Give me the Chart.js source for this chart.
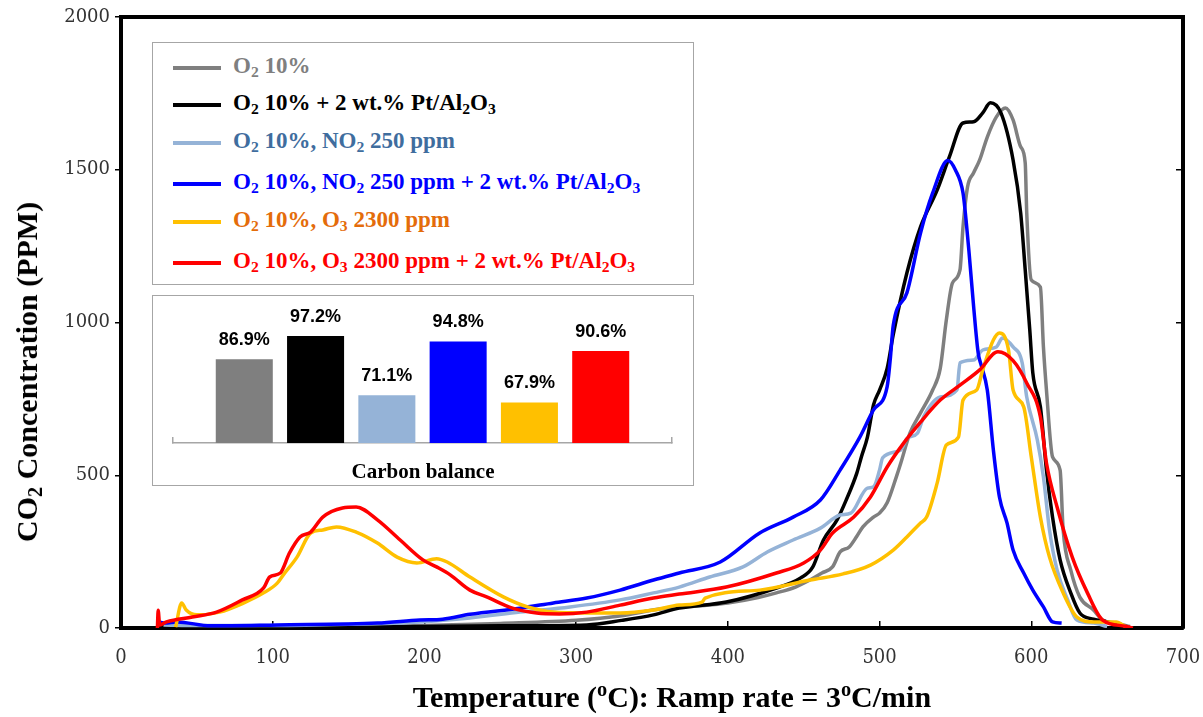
<!DOCTYPE html>
<html>
<head>
<meta charset="utf-8">
<script src="https://cdn.jsdelivr.net/npm/chart.js@4.4.0/dist/chart.umd.min.js"></script>
<style>
  body { margin: 0; background: #fff; }
  #wrap { position: relative; width: 1203px; height: 717px; overflow: hidden; background: #fff; }
  #main { position: absolute; left: 0; top: 0; }
  .box { position: absolute; background: #fff; border: 1.5px solid #a6a6a6; box-sizing: border-box; }
  #legend { left: 152px; top: 42px; width: 542px; height: 243px; }
  #insetBox { left: 152px; top: 295px; width: 542px; height: 191px; }
  #inset { position: absolute; left: 152px; top: 295px; }
  .row { position: absolute; left: 80px; height: 30px; line-height: 30px;
         font: bold 23px 'Liberation Serif', 'Times New Roman', serif; white-space: nowrap; }
  .swatch { position: absolute; left: 20px; width: 48px; height: 4px; }
  sub, sup { font-size: 68%; line-height: 0; }
  sub { vertical-align: -0.25em; }
  sup { vertical-align: 0.55em; }
  .title { position: absolute; font: bold 30px 'Liberation Serif', 'Times New Roman', serif; white-space: nowrap; color: #000; }
  #xTitle { left: 672px; top: 697px; transform: translate(-50%, -50%); }
  #yTitle { left: 27px; top: 372px; transform: translate(-50%, -50%) rotate(-90deg); }
  #balTitle { position: absolute; left: 152px; width: 542px; top: 459px; text-align: center;
              font: bold 21px 'Liberation Serif', 'Times New Roman', serif; line-height: 24px; }
</style>
</head>
<body>
<div id="wrap">
  <canvas id="main" width="1203" height="717"></canvas>
  <div id="legend" class="box"></div>
  <div id="insetBox" class="box"></div>
  <canvas id="inset" width="542" height="191"></canvas>
  <div id="balTitle">Carbon balance</div>
  <div id="xTitle" class="title">Temperature (<sup>o</sup>C): Ramp rate = 3<sup>o</sup>C/min</div>
  <div id="yTitle" class="title">CO<sub>2</sub> Concentration (PPM)</div>
</div>
<script>
// CO2 profiles: temperature (°C) and CO2 (ppm)
const tO2 = [25, 40, 80, 150, 200, 250, 300, 330, 355, 380, 400, 420, 432, 445, 454, 462, 469, 474, 480, 485, 489, 496, 500, 505, 511, 514, 520, 527, 535, 540, 544, 548, 553, 555, 558, 562, 566, 571, 577, 583, 588, 593, 596, 597, 600, 606, 608, 610, 614, 619, 621, 626, 632, 641, 647, 656, 665];
const vO2 = [10, 8, 5, 5, 8, 15, 25, 40, 62, 72, 82, 100, 115, 135, 157, 180, 200, 249, 265, 300, 331, 363, 376, 410, 494, 540, 638, 704, 779, 850, 1008, 1129, 1172, 1313, 1444, 1490, 1532, 1607, 1673, 1702, 1663, 1575, 1522, 1359, 1139, 1116, 920, 779, 560, 517, 321, 190, 101, 59, 26, 16, 5];

const tO2Pt = [25, 60, 100, 150, 200, 250, 307, 330, 351, 368, 399, 432, 448, 456, 463, 472, 478, 485, 488, 492, 496, 500, 505, 509, 518, 527, 538, 546, 555, 562, 568, 573, 580, 588, 593, 596, 599, 601, 606, 610, 614, 619, 626, 632, 641, 650, 660];
const vO2Pt = [5, 3, 2, 3, 5, 7, 10, 25, 43, 65, 85, 131, 164, 200, 288, 354, 419, 507, 560, 625, 730, 779, 850, 960, 1162, 1313, 1434, 1542, 1653, 1657, 1686, 1719, 1686, 1532, 1359, 1172, 976, 835, 724, 517, 363, 223, 115, 49, 29, 20, 5];

const tNO2 = [28, 50, 100, 150, 197, 230, 263, 296, 329, 351, 368, 388, 410, 426, 443, 461, 474, 481, 492, 496, 500, 502, 514, 518, 525, 529, 540, 551, 553, 562, 568, 577, 581, 588, 594, 597, 604, 608, 612, 617, 624, 630, 641, 650];
const vNO2 = [10, 8, 8, 12, 20, 33, 52, 69, 92, 115, 134, 167, 200, 249, 288, 327, 370, 376, 458, 462, 517, 557, 583, 620, 638, 691, 756, 779, 868, 877, 910, 920, 949, 920, 868, 756, 615, 494, 321, 190, 92, 26, 16, 5];

const tNO2Pt = [25, 29, 37, 59, 103, 169, 197, 212, 230, 263, 285, 307, 329, 351, 368, 395, 421, 443, 461, 474, 487, 496, 505, 507, 509, 518, 527, 535, 545, 550, 555, 557, 559, 562, 565, 567, 571, 575, 579, 584, 588, 595, 601, 608, 614, 620];
const vNO2Pt = [20, 16, 20, 7, 10, 16, 26, 29, 45, 65, 82, 98, 124, 157, 180, 216, 311, 363, 419, 517, 625, 714, 790, 877, 990, 1097, 1293, 1424, 1530, 1499, 1424, 1336, 1228, 1052, 900, 860, 779, 583, 429, 344, 255, 180, 124, 69, 20, 16];

const tO3 = [36, 40, 43, 50, 65, 80, 94, 103, 107, 116, 125, 133, 142, 155, 169, 182, 195, 208, 215, 230, 252, 268, 285, 307, 329, 351, 368, 383, 385, 421, 454, 476, 494, 509, 518, 527, 531, 538, 544, 552, 555, 564, 568, 575, 579, 585, 588, 595, 600, 606, 612, 621, 630, 641, 656, 662];
const vO3 = [3, 82, 59, 43, 52, 80, 115, 147, 174, 232, 311, 321, 331, 314, 278, 232, 213, 227, 216, 167, 102, 69, 52, 49, 49, 59, 75, 85, 98, 124, 157, 177, 206, 255, 298, 344, 363, 475, 599, 625, 746, 779, 845, 943, 966, 910, 779, 724, 560, 363, 232, 115, 36, 20, 20, 5];

const tO3Pt = [24, 24.5, 25.5, 30, 47, 63, 80, 94, 98, 105, 111, 118, 125, 133, 146, 155, 169, 184, 199, 208, 217, 230, 241, 258, 274, 289, 307, 329, 351, 368, 399, 432, 450, 461, 469, 483, 494, 505, 516, 527, 540, 553, 566, 578, 588, 597, 606, 610, 617, 627, 637, 647, 662, 667];
const vO3Pt = [0, 58, 10, 20, 36, 52, 92, 131, 167, 180, 245, 298, 314, 363, 393, 396, 354, 288, 223, 200, 174, 124, 102, 65, 49, 46, 52, 75, 98, 111, 134, 180, 213, 255, 311, 363, 429, 527, 606, 674, 746, 795, 845, 904, 875, 802, 691, 540, 396, 232, 115, 26, 6, 0];

// carbon balance (%) per condition, same order as the legend
const balanceValues = [86.9, 97.2, 71.1, 94.8, 67.9, 90.6];

const seriesLabels = [
    'O<sub>2</sub> 10%',
    'O<sub>2</sub> 10% + 2 wt.% Pt/Al<sub>2</sub>O<sub>3</sub>',
    'O<sub>2</sub> 10%, NO<sub>2</sub> 250 ppm',
    'O<sub>2</sub> 10%, NO<sub>2</sub> 250 ppm + 2 wt.% Pt/Al<sub>2</sub>O<sub>3</sub>',
    'O<sub>2</sub> 10%, O<sub>3</sub> 2300 ppm',
    'O<sub>2</sub> 10%, O<sub>3</sub> 2300 ppm + 2 wt.% Pt/Al<sub>2</sub>O<sub>3</sub>'
];
const seriesTemps = [tO2, tO2Pt, tNO2, tNO2Pt, tO3, tO3Pt];
const seriesValues = [vO2, vO2Pt, vNO2, vNO2Pt, vO3, vO3Pt];

const lineColors = ['#7f7f7f', '#000000', '#95b3d7', '#0000ff', '#ffc000', '#ff0000'];
const textColors = ['#7f7f7f', '#000000', '#3f6d9e', '#0000ff', '#e46c0a', '#ff0000'];
const rowCenters = [25, 62, 100, 141, 179, 220];

function buildLegend() {
    const legend = document.getElementById('legend');
    seriesLabels.forEach((label, i) => {
        const sw = document.createElement('div');
        sw.className = 'swatch';
        sw.style.top = (rowCenters[i] - 2) + 'px';
        sw.style.background = lineColors[i];
        legend.appendChild(sw);

        const row = document.createElement('div');
        row.className = 'row';
        row.style.top = (rowCenters[i] - 15) + 'px';
        row.style.color = textColors[i];
        row.innerHTML = label;
        legend.appendChild(row);
    });
}

// fixed axis box sizes so the plot frame lands where the original has it
function fixBox(size, key) {
    return s => {
        s[key] = size;
        s.paddingLeft = 0; s.paddingRight = 0;
        s.paddingTop = 0; s.paddingBottom = 0;
    };
}

function drawMainChart() {
    const datasets = seriesTemps.map((temps, i) => ({
        data: temps.map((t, k) => ({ x: t, y: seriesValues[i][k] })),
        borderColor: lineColors[i],
        borderWidth: 3.5,
        pointRadius: 0,
        fill: false,
        cubicInterpolationMode: 'monotone',
        order: 6 - i
    }));

    const tickFont = { family: "'DejaVu Serif Condensed', 'Liberation Serif', serif", size: 20 };
    const frame = { display: true, color: '#000', width: 4 };

    new Chart(document.getElementById('main'), {
        type: 'line',
        data: { datasets: datasets },
        options: {
            responsive: false,
            animation: false,
            plugins: { legend: { display: false }, tooltip: { enabled: false } },
            scales: {
                x: {
                    type: 'linear', position: 'bottom', min: 0, max: 700,
                    ticks: { stepSize: 100, padding: 25, color: '#333', font: tickFont },
                    grid: { drawOnChartArea: false, tickLength: -7, color: '#000', lineWidth: 1.5 },
                    border: frame,
                    afterFit: fixBox(89, 'height')
                },
                y: {
                    type: 'linear', position: 'left', min: 0, max: 2000,
                    ticks: { stepSize: 500, padding: 5, color: '#333',
                             font: { family: "'DejaVu Serif', serif", size: 18 },
                             callback: v => String(v) },
                    grid: { drawOnChartArea: false, tickLength: 6, color: '#000', lineWidth: 1.5 },
                    border: frame,
                    afterFit: fixBox(121, 'width')
                },
                x2: {
                    type: 'linear', position: 'top', min: 0, max: 700,
                    ticks: { display: false },
                    grid: { display: false },
                    border: frame,
                    afterFit: fixBox(17, 'height')
                },
                y2: {
                    type: 'linear', position: 'right', min: 0, max: 2000,
                    ticks: { display: false, stepSize: 500 },
                    grid: { drawOnChartArea: false, tickLength: -7, color: '#000', lineWidth: 1.5 },
                    border: frame,
                    afterFit: fixBox(20, 'width')
                }
            }
        }
    });
}

// percent labels above the inset bars
const barLabels = {
    id: 'barLabels',
    afterDatasetsDraw(chart) {
        const ctx = chart.ctx;
        ctx.save();
        ctx.font = "bold 18px 'Liberation Sans', Arial, sans-serif";
        ctx.fillStyle = '#000';
        ctx.textAlign = 'center';
        ctx.textBaseline = 'alphabetic';
        chart.getDatasetMeta(0).data.forEach((bar, i) => {
            ctx.fillText(balanceValues[i].toFixed(1) + '%', bar.x, bar.y - 14);
        });
        ctx.restore();
    }
};

function drawInset() {
    new Chart(document.getElementById('inset'), {
        type: 'bar',
        data: {
            datasets: [{
                data: balanceValues.map((v, i) => ({ x: i + 1, y: v })),
                backgroundColor: lineColors,
                borderWidth: 0,
                barPercentage: 0.8,
                categoryPercentage: 1
            }]
        },
        options: {
            responsive: false,
            animation: false,
            layout: { padding: { left: 21, right: 22, top: 12, bottom: 0 } },
            plugins: { legend: { display: false }, tooltip: { enabled: false } },
            scales: {
                x: {
                    type: 'linear', min: 0, max: 7, offset: false,
                    ticks: { display: false, stepSize: 1 },
                    // keep only the two end ticks, drawn as short marks above the axis line
                    afterBuildTicks: s => { s.ticks = s.ticks.filter(t => t.value === 0 || t.value === 7); },
                    grid: { offset: false, drawOnChartArea: false, drawTicks: true, tickLength: -6,
                            color: '#a6a6a6', lineWidth: 1.5 },
                    border: { display: true, color: '#a6a6a6', width: 1.5 },
                    afterFit: fixBox(43, 'height')
                },
                y: { display: false, min: 50, max: 110 }
            }
        },
        plugins: [barLabels]
    });
}

document.addEventListener('DOMContentLoaded', function() {
    buildLegend();
    drawMainChart();
    drawInset();
});
</script>
</body>
</html>
